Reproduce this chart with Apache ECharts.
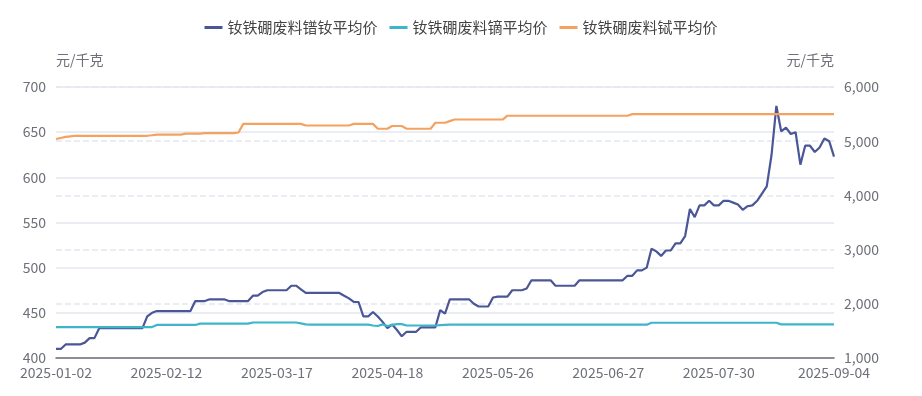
<!DOCTYPE html>
<html>
<head>
<meta charset="utf-8">
<script src="https://cdn.jsdelivr.net/npm/echarts@6/dist/echarts.min.js"></script>
<style>
  html, body { margin: 0; padding: 0; background: #fff; }
  #main { width: 922px; height: 396px; }
</style>
</head>
<body>
<div id="main"></div>
<script>
// trading days per month (2025)
var tradeDays = {
  '01': [2, 3, 6, 7, 8, 9, 10, 13, 14, 15, 16, 17, 20, 21, 22, 23, 24, 27],
  '02': [5, 6, 7, 10, 11, 12, 13, 14, 17, 18, 19, 20, 21, 24, 25, 26, 27, 28],
  '03': [3, 4, 5, 6, 7, 10, 11, 12, 13, 14, 17, 18, 19, 20, 21, 24, 25, 26, 27, 28, 31],
  '04': [1, 2, 3, 7, 8, 9, 10, 11, 14, 15, 16, 17, 18, 21, 22, 23, 24, 25, 28, 29, 30],
  '05': [6, 7, 8, 9, 12, 13, 14, 15, 16, 19, 20, 21, 22, 23, 26, 27, 28, 29, 30],
  '06': [3, 4, 5, 6, 9, 10, 11, 12, 13, 16, 17, 18, 19, 20, 23, 24, 25, 26, 27, 30],
  '07': [1, 2, 3, 4, 7, 8, 9, 10, 11, 14, 15, 16, 17, 18, 21, 22, 23, 24, 25, 28, 29, 30, 31],
  '08': [1, 4, 5, 6, 7, 11, 12, 13, 14, 18, 19, 20, 21, 22, 25, 26, 27, 28, 29],
  '09': [1, 2, 3, 4]
};

var dates = [];
Object.keys(tradeDays).forEach(function (m) {
  tradeDays[m].forEach(function (d) {
    dates.push('2025-' + m + '-' + (d < 10 ? '0' + d : d));
  });
});

var seriesNames = ['钕铁硼废料镨钕平均价', '钕铁硼废料镝平均价', '钕铁硼废料铽平均价'];

// 镨钕 (left axis)
var prndPrice = [
  410, 410, 415, 415, 415, 415, 417, 422, 422, 433,
  433, 433, 433, 433, 433, 433, 433, 433, 433, 446,
  450, 452, 452, 452, 452, 452, 452, 452, 452, 463,
  463, 463, 465, 465, 465, 465, 463, 463, 463, 463,
  463, 469, 469, 473, 475, 475, 475, 475, 475, 480,
  480, 476, 472, 472, 472, 472, 472, 472, 472, 472,
  469, 466, 462, 462, 446, 446, 451, 446, 440, 433,
  437, 431, 424, 429, 429, 429, 434, 434, 434, 434,
  453, 449, 465, 465, 465, 465, 465, 460, 457, 457,
  457, 467, 468, 468, 468, 475, 475, 475, 477, 486,
  486, 486, 486, 486, 480, 480, 480, 480, 480, 486,
  486, 486, 486, 486, 486, 486, 486, 486, 486, 491,
  491, 497, 497, 500, 521, 518, 513, 519, 519, 527,
  527, 535, 565, 556, 569, 569, 574, 569, 569, 574,
  574, 572, 570, 564, 568, 569, 574, 582, 590, 625,
  679, 651, 655, 648, 650, 614, 635, 635, 628, 633,
  643, 640, 623
];

// 镝 (right axis)
var dyPrice = [
  1570, 1570, 1570, 1570, 1570, 1570, 1570, 1570, 1570, 1570,
  1570, 1570, 1570, 1570, 1570, 1570, 1570, 1570, 1570, 1570,
  1570, 1610, 1610, 1610, 1610, 1610, 1610, 1610, 1610, 1610,
  1635, 1635, 1635, 1635, 1635, 1635, 1635, 1635, 1635, 1635,
  1635, 1655, 1655, 1655, 1655, 1655, 1655, 1655, 1655, 1655,
  1655, 1640, 1620, 1615, 1615, 1615, 1615, 1615, 1615, 1615,
  1615, 1615, 1615, 1615, 1615, 1615, 1600, 1590, 1620, 1590,
  1610, 1625, 1625, 1600, 1600, 1600, 1600, 1600, 1600, 1600,
  1605, 1610, 1615, 1615, 1615, 1615, 1615, 1615, 1615, 1615,
  1615, 1615, 1615, 1615, 1615, 1615, 1615, 1615, 1615, 1615,
  1615, 1615, 1615, 1615, 1615, 1615, 1615, 1615, 1615, 1615,
  1615, 1615, 1615, 1615, 1615, 1615, 1615, 1615, 1615, 1615,
  1615, 1615, 1615, 1615, 1650, 1650, 1650, 1650, 1650, 1650,
  1650, 1650, 1650, 1650, 1650, 1650, 1650, 1650, 1650, 1650,
  1650, 1650, 1650, 1650, 1650, 1650, 1650, 1650, 1650, 1650,
  1650, 1620, 1620, 1620, 1620, 1620, 1620, 1620, 1620, 1620,
  1620, 1620, 1620
];

// 铽 (right axis)
var tbPrice = [
  5040, 5060, 5080, 5090, 5100, 5100, 5100, 5100, 5100, 5100,
  5100, 5100, 5100, 5100, 5100, 5100, 5100, 5100, 5100, 5100,
  5110, 5120, 5120, 5120, 5120, 5120, 5120, 5140, 5140, 5140,
  5140, 5150, 5150, 5150, 5150, 5150, 5150, 5150, 5160, 5320,
  5320, 5320, 5320, 5320, 5320, 5320, 5320, 5320, 5320, 5320,
  5320, 5320, 5290, 5290, 5290, 5290, 5290, 5290, 5290, 5290,
  5290, 5290, 5320, 5320, 5320, 5320, 5320, 5230, 5230, 5230,
  5280, 5280, 5280, 5230, 5230, 5230, 5230, 5230, 5230, 5340,
  5340, 5340, 5370, 5400, 5400, 5400, 5400, 5400, 5400, 5400,
  5400, 5400, 5400, 5400, 5470, 5470, 5470, 5470, 5470, 5470,
  5470, 5470, 5470, 5470, 5470, 5470, 5470, 5470, 5470, 5470,
  5470, 5470, 5470, 5470, 5470, 5470, 5470, 5470, 5470, 5470,
  5500, 5500, 5500, 5500, 5500, 5500, 5500, 5500, 5500, 5500,
  5500, 5500, 5500, 5500, 5500, 5500, 5500, 5500, 5500, 5500,
  5500, 5500, 5500, 5500, 5500, 5500, 5500, 5500, 5500, 5500,
  5500, 5500, 5500, 5500, 5500, 5500, 5500, 5500, 5500, 5500,
  5500, 5500, 5500
];

var labelStep = 23;
var font = 'Noto Sans CJK SC';

var myChart = echarts.init(document.getElementById('main'));
var option = {
  color: ['#4a5696', '#3fb5c9', '#f4a25f'],
  textStyle: { fontFamily: font },
  legend: {
    top: 15,
    left: 'center',
    icon: 'rect',
    itemWidth: 18,
    itemHeight: 3,
    itemGap: 12,
    textStyle: { fontSize: 15, color: '#444', fontFamily: font },
    data: seriesNames
  },
  grid: {
    left: 56,
    right: 88,
    top: 87,
    bottom: 38
  },
  xAxis: {
    type: 'category',
    boundaryGap: false,
    data: dates,
    axisTick: { show: false },
    axisLine: { lineStyle: { color: '#6e7079', width: 1.5 } },
    axisLabel: {
      fontSize: 14,
      color: '#6e7079',
      margin: 8,
      interval: function (index) {
        return (index % labelStep === 0 && index <= labelStep * 6) || index === dates.length - 1;
      }
    }
  },
  yAxis: [
    {
      type: 'value',
      name: '元/千克',
      nameGap: 20,
      nameTextStyle: { fontSize: 14, color: '#6e7079', align: 'left' },
      min: 400,
      max: 700,
      interval: 50,
      axisLabel: { fontSize: 14, color: '#6e7079', margin: 10 },
      splitLine: { lineStyle: { color: '#e3e7f1', width: 1.5 } }
    },
    {
      type: 'value',
      name: '元/千克',
      nameGap: 20,
      nameTextStyle: { fontSize: 14, color: '#6e7079', align: 'right' },
      min: 1000,
      max: 6000,
      interval: 1000,
      axisLabel: { fontSize: 14, color: '#6e7079', margin: 10 },
      splitLine: { lineStyle: { color: '#e3e7f1', type: 'dashed', width: 1.5 } }
    }
  ],
  series: [
    {
      name: seriesNames[0],
      type: 'line',
      yAxisIndex: 0,
      symbol: 'none',
      lineStyle: { width: 2.2 },
      data: prndPrice
    },
    {
      name: seriesNames[1],
      type: 'line',
      yAxisIndex: 1,
      symbol: 'none',
      lineStyle: { width: 2.2 },
      data: dyPrice
    },
    {
      name: seriesNames[2],
      type: 'line',
      yAxisIndex: 1,
      symbol: 'none',
      lineStyle: { width: 2.2 },
      data: tbPrice
    }
  ]
};
myChart.setOption(option);
</script>
</body>
</html>
